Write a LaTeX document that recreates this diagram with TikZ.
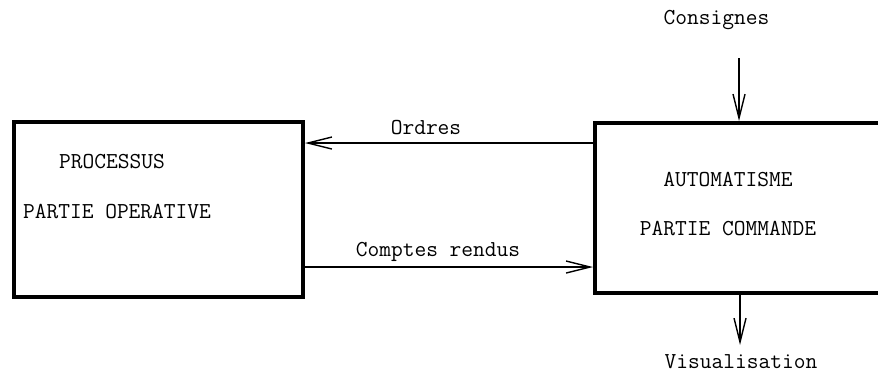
\documentclass[tikz,border=0pt]{standalone}
\usetikzlibrary{arrows.meta}

\begin{document}
\begin{tikzpicture}[x=0.5pt,y=-0.5pt,every node/.style={font=\ttfamily\fontsize{11.4}{13}\selectfont,inner sep=0pt},
    bloc/.style={rectangle,draw,line width=2pt},
    fleche/.style={line width=0.7pt,-{Straight Barb[length=12pt,width=6pt,line width=0.7pt]}}]
  \useasboundingbox (0,0) rectangle (878,371);

  \node[bloc,minimum width=144.5pt,minimum height=87.5pt] (n1) at (158.5,209.5) {};
  \node[bloc,minimum width=142.5pt,minimum height=85pt] (n2) at (737.5,208) {};

  \node (t1) at (112,162) {PROCESSUS};
  \node (t2) at (117,212) {PARTIE OPERATIVE};
  \node (t3) at (728,180) {AUTOMATISME};
  \node (t4) at (728,229) {PARTIE COMMANDE};

  \node (l1) at (426,128) {Ordres};
  \node (l2) at (438,252) {Comptes rendus};
  \node (l3) at (716.5,20) {Consignes};
  \node (l4) at (741,362) {Visualisation};

  \coordinate (c1) at (739,58);
  \coordinate (c2) at (740,345);

  \draw[fleche] ([yshift=32.5pt]n2.west) -- ([yshift=32.5pt]n2.west -| n1.east);
  \draw[fleche] ([yshift=-29.5pt]n2.west -| n1.east) -- ([yshift=-29.5pt]n2.west);
  \draw[fleche] (c1) -- (c1 |- n2.north);
  \draw[fleche] (n2.south -| c2) -- (c2);
\end{tikzpicture}
\end{document}
